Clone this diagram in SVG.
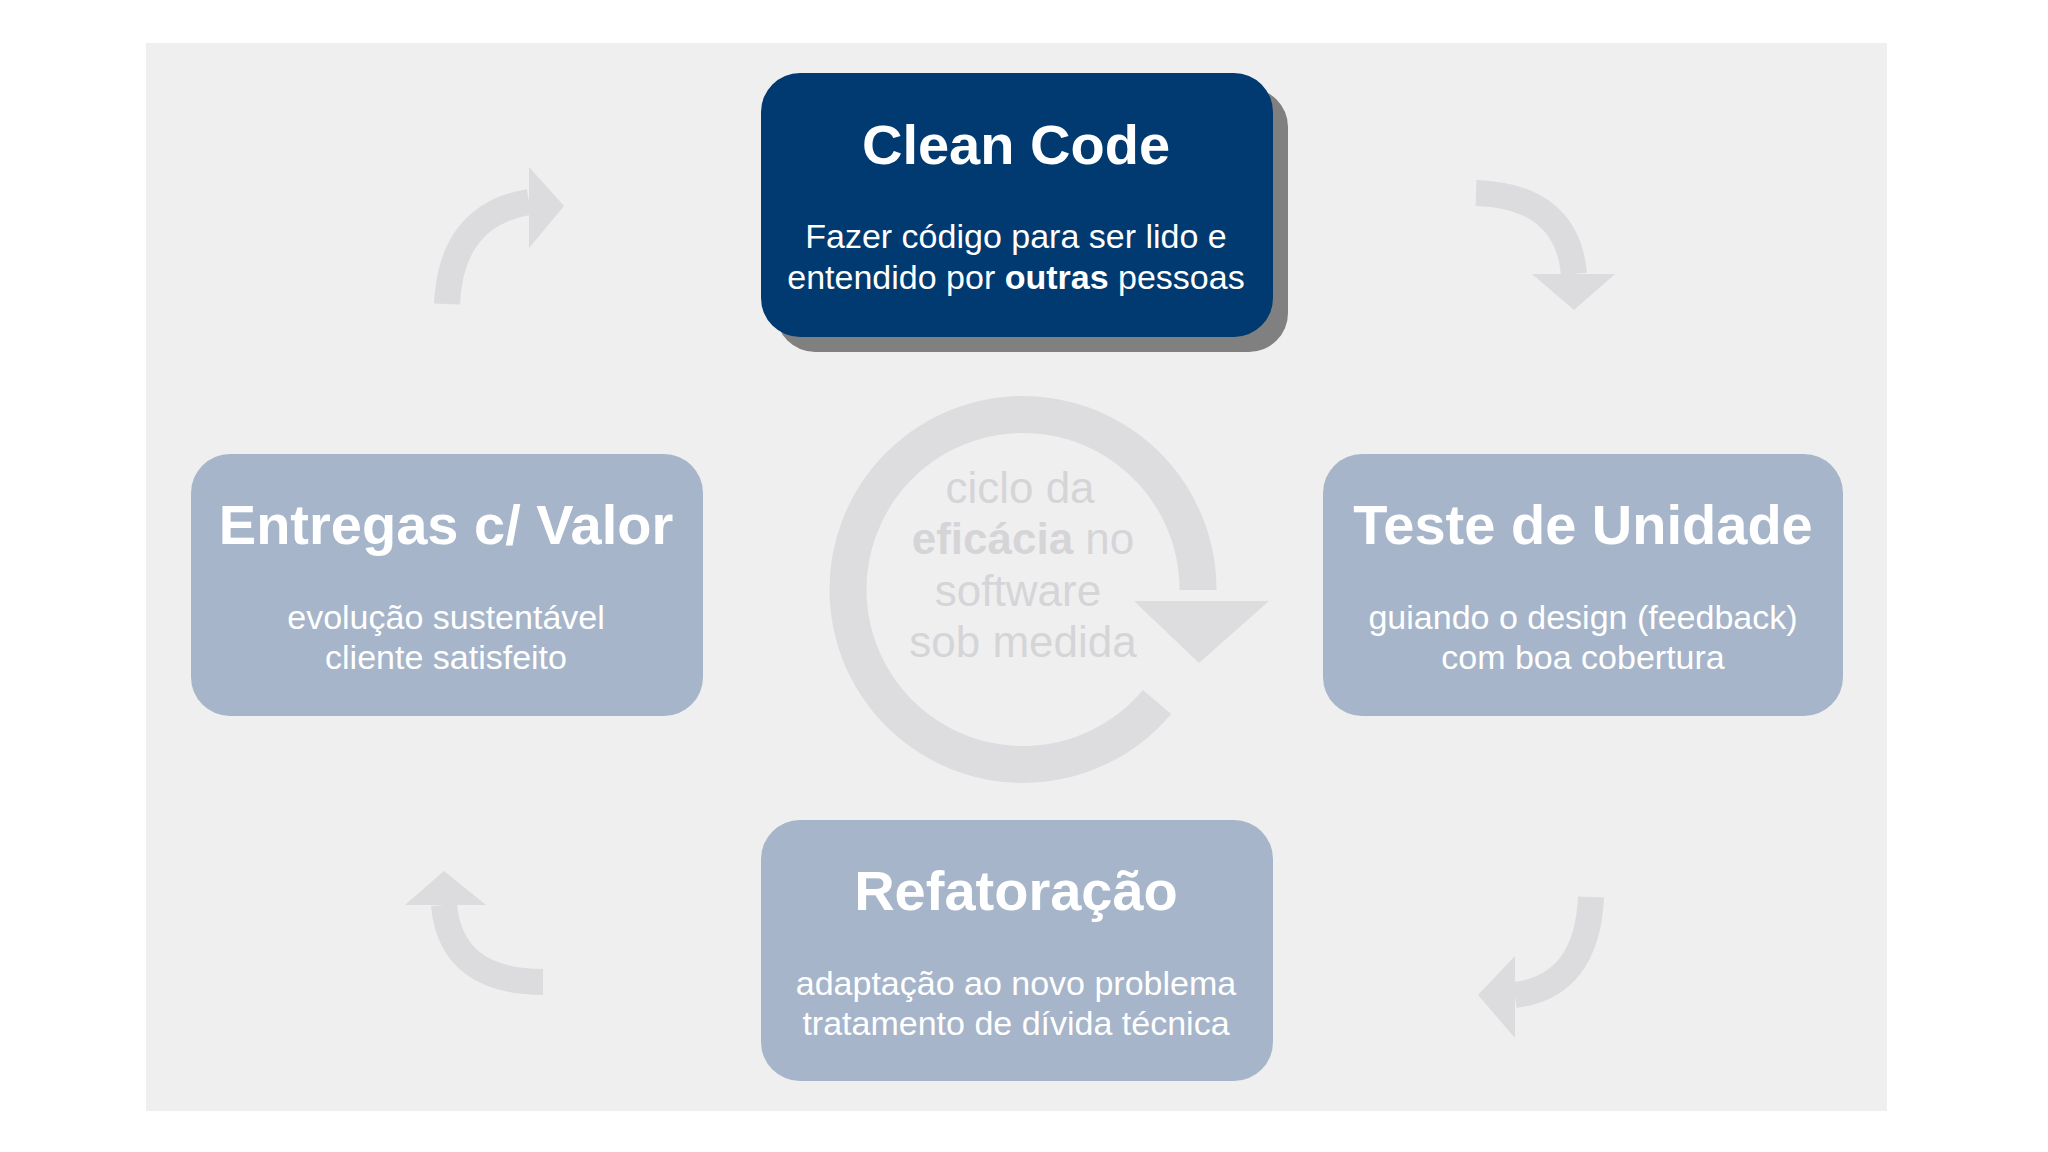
<svg xmlns="http://www.w3.org/2000/svg" width="2048" height="1152" viewBox="0 0 2048 1152">
<style>
.t{font-family:"Liberation Sans",Arial,sans-serif;text-anchor:middle;fill:#fff}
.h{font-size:56px;font-weight:bold}
.s{font-size:34px}
.c{font-family:"Liberation Sans",Arial,sans-serif;text-anchor:middle;fill:#d5d5d8;font-size:44px}
.ar{fill:none;stroke:#dcdcde;stroke-width:26}
.ah{fill:#dcdcde}
.lb{fill:#a6b5c9}
</style>
<rect width="2048" height="1152" fill="#fff"/>
<rect x="146" y="43" width="1741" height="1068" fill="#efeff0"/>
<g id="center">
<path d="M1157 702 A175 175 0 1 1 1198 590" fill="none" stroke="#dddddf" stroke-width="37"/>
<polygon points="1134,601 1269,601 1199,663" fill="#dddddf"/>
<text class="c" x="1020" y="503">ciclo da</text>
<text class="c" x="1023" y="554"><tspan font-weight="bold">eficácia</tspan> no</text>
<text class="c" x="1018" y="606">software</text>
<text class="c" x="1023" y="657">sob medida</text>
</g>
<g id="connectors">
<path class="ar" d="M447 304 Q451 215 529 202"/><polygon class="ah" points="529,167 564,206 529,248"/>
<path class="ar" d="M1476 193 Q1567 196 1574 274"/><polygon class="ah" points="1532,274 1615,274 1574,310"/>
<path class="ar" d="M1591 897 Q1587 986 1515 995"/><polygon class="ah" points="1515,956 1515,1038 1478,995"/>
<path class="ar" d="M543 982 Q451 982 444 905"/><polygon class="ah" points="405,905 486,905 444,871"/>
</g>
<g id="clean">
<rect x="776" y="88" width="512" height="264" rx="39" fill="#808080"/>
<rect x="761" y="73" width="512" height="264" rx="39" fill="#003a70"/>
<text class="t h" x="1016" y="164">Clean Code</text>
<text class="t s" x="1016" y="248">Fazer código para ser lido e</text>
<text class="t s" x="1016" y="289">entendido por <tspan font-weight="bold">outras</tspan> pessoas</text>
</g>
<g id="entregas">
<rect class="lb" x="191" y="454" width="512" height="262" rx="39"/>
<text class="t h" x="446" y="544">Entregas c/ Valor</text>
<text class="t s" x="446" y="629">evolução sustentável</text>
<text class="t s" x="446" y="669">cliente satisfeito</text>
</g>
<g id="teste">
<rect class="lb" x="1323" y="454" width="520" height="262" rx="39"/>
<text class="t h" x="1583" y="544">Teste de Unidade</text>
<text class="t s" x="1583" y="629">guiando o design (feedback)</text>
<text class="t s" x="1583" y="669">com boa cobertura</text>
</g>
<g id="refatoracao">
<rect class="lb" x="761" y="820" width="512" height="261" rx="39"/>
<text class="t h" x="1016" y="910">Refatoração</text>
<text class="t s" x="1016" y="995">adaptação ao novo problema</text>
<text class="t s" x="1016" y="1035">tratamento de dívida técnica</text>
</g>
</svg>
